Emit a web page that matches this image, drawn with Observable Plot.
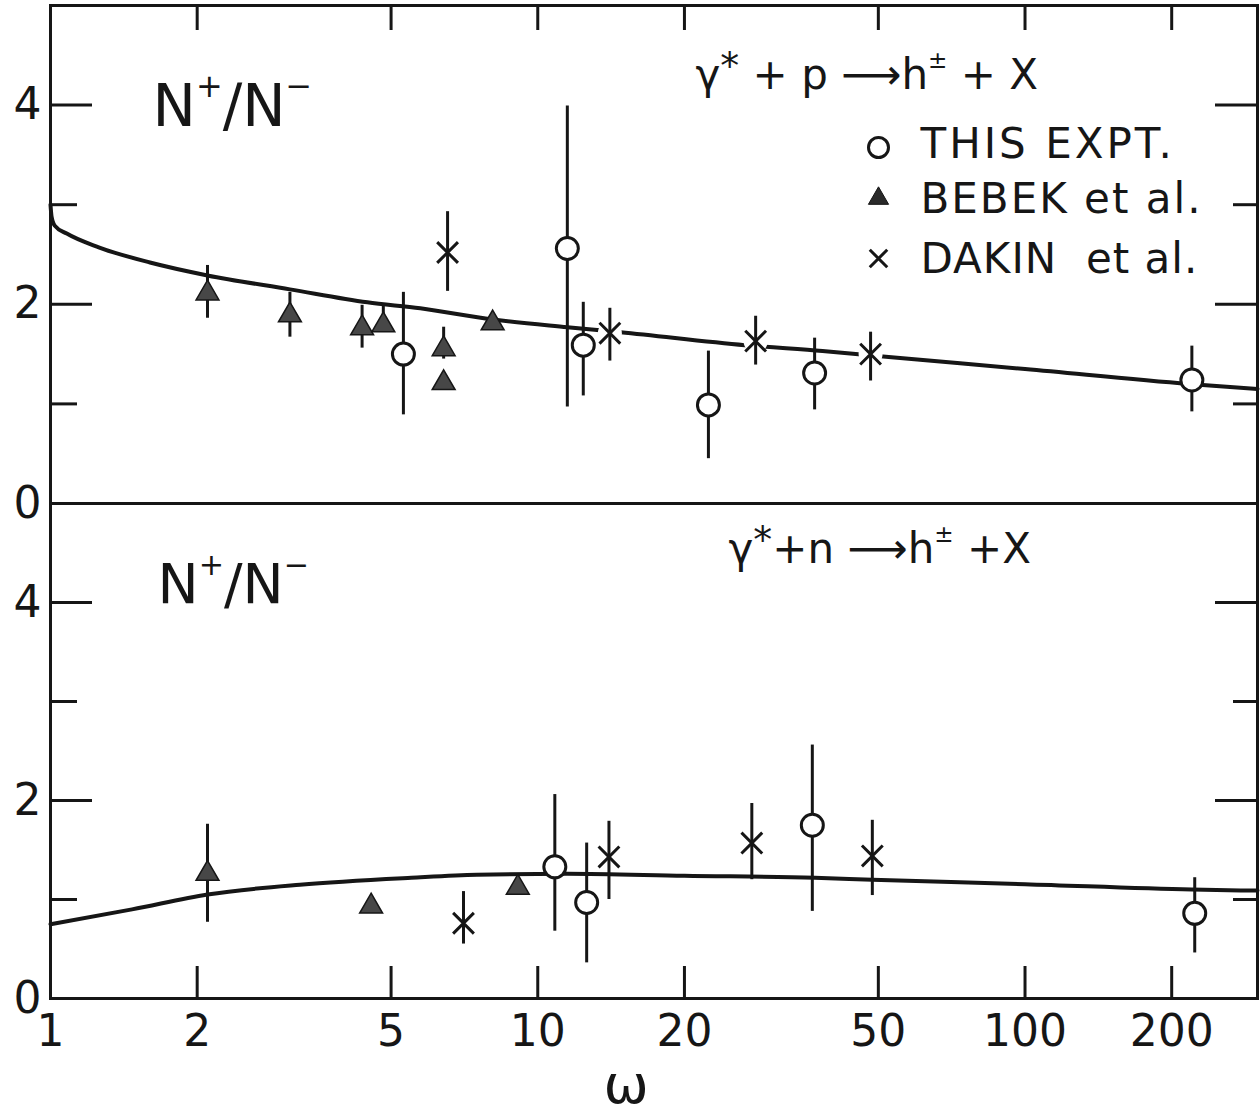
<!DOCTYPE html>
<html>
<head>
<meta charset="utf-8">
<script src="https://cdn.jsdelivr.net/npm/d3@7"></script>
<script src="https://cdn.jsdelivr.net/npm/@observablehq/plot@0.6"></script>
<style>
html, body { margin: 0; padding: 0; background: #fff; }
#chart { position: relative; width: 1260px; height: 1116px; overflow: hidden; background: #fff; }
#chart svg { position: absolute; left: 0; }
#chart text { white-space: pre; }
</style>
</head>
<body>
<div id="chart"></div>
<script>
// ---------------- data ----------------
const xTicks = [2, 5, 10, 20, 50, 100, 200];
const xLabels = [1, 2, 5, 10, 20, 50, 100, 200];
const yMajor = [2, 4];
const yMinor = [1, 3];
const yLabels = [0, 2, 4];
const legendLabels = ["THIS EXPT.", "BEBEK et al.", "DAKIN  et al."];

// gamma* + p  -> h± + X : theory curve
const curvePOmega = [1.000, 1.005, 1.02, 1.08, 1.26, 1.6, 2.1, 3.1, 4.47, 5.74, 8.0, 11.5, 14.8, 26.6, 38.4, 52.5, 100, 217, 300];
const curvePRatio = [3.00, 2.88, 2.79, 2.71, 2.57, 2.42, 2.29, 2.15, 2.02, 1.96, 1.85, 1.77, 1.72, 1.59, 1.53, 1.47, 1.35, 1.20, 1.15];
// THIS EXPT. (proton)
const exptPOmega = [5.3, 11.5, 12.4, 22.4, 37, 220];
const exptPRatio = [1.50, 2.56, 1.59, 0.99, 1.31, 1.24];
const exptPLow   = [0.89, 0.97, 1.08, 0.45, 0.94, 0.92];
const exptPHigh  = [2.12, 3.99, 2.02, 1.53, 1.66, 1.58];
// BEBEK et al. (proton)
const bebekPOmega = [2.10, 3.10, 4.36, 4.82, 6.41, 6.41, 8.08];
const bebekPRatio = [2.11, 1.89, 1.76, 1.79, 1.55, 1.21, 1.81];
const bebekPLow   = [1.86, 1.67, 1.56, 1.79, 1.45, null, null];
const bebekPHigh  = [2.39, 2.12, 1.99, 2.00, 1.77, null, null];
// DAKIN et al. (proton)
const dakinPOmega = [6.53, 14.06, 28.0, 48.2];
const dakinPRatio = [2.52, 1.71, 1.63, 1.50];
const dakinPLow   = [2.13, 1.43, 1.39, 1.23];
const dakinPHigh  = [2.93, 1.96, 1.88, 1.72];

// gamma* + n -> h± + X : theory curve
const curveNOmega = [1.0, 1.47, 2.1, 3.25, 5.5, 7.5, 11.5, 20, 37, 48.6, 100, 220, 300];
const curveNRatio = [0.75, 0.90, 1.05, 1.15, 1.22, 1.25, 1.26, 1.24, 1.22, 1.20, 1.155, 1.10, 1.09];
// THIS EXPT. (neutron)
const exptNOmega = [10.84, 12.6, 36.6, 223];
const exptNRatio = [1.33, 0.97, 1.75, 0.86];
const exptNLow   = [0.68, 0.36, 0.88, 0.46];
const exptNHigh  = [2.06, 1.57, 2.56, 1.22];
// BEBEK et al. (neutron)
const bebekNOmega = [2.10, 4.55, 9.1];
const bebekNRatio = [1.26, 0.93, 1.12];
const bebekNLow   = [0.77, null, null];
const bebekNHigh  = [1.76, null, null];
// DAKIN et al. (neutron)
const dakinNOmega = [7.04, 14.0, 27.5, 48.6];
const dakinNRatio = [0.76, 1.43, 1.57, 1.44];
const dakinNLow   = [0.55, 1.00, 1.20, 1.04];
const dakinNHigh  = [1.08, 1.79, 1.97, 1.80];

// ---------------- helpers ----------------
const INK = "#161616";
const FONT = "'DejaVu Sans', sans-serif";
const W = 1260, ML = 50, MR = 3, PW = W - ML - MR;
const legendSpacing = {"THIS EXPT.": "3px", "BEBEK et al.": "2px", "DAKIN  et al.": "1px"};

const rows = (om, r, lo, hi) => om.map((w, i) => ({w, r: r[i], lo: lo ? lo[i] : null, hi: hi ? hi[i] : null}));

// "^{txt}" or "^{txt|scale|shift}" -> superscript tspans
function richify(svg) {
  svg.querySelectorAll("text").forEach(el => {
    const s = el.textContent;
    if (legendSpacing[s]) el.setAttribute("letter-spacing", legendSpacing[s]);
    if (!s.includes("^{")) return;
    el.textContent = "";
    const re = /\^\{([^}]*)\}/g;
    let last = 0, m, prevShift = 0;
    const add = (txt, sup) => {
      if (!txt) return;
      const ts = document.createElementNS("http://www.w3.org/2000/svg", "tspan");
      if (sup) {
        const [t, sc = "0.55", sh = "0.5"] = txt.split("|");
        const scale = +sc, shift = +sh;
        ts.textContent = t;
        ts.setAttribute("font-size", (scale * 100) + "%");
        ts.setAttribute("dy", ((-shift - prevShift) / scale).toFixed(3) + "em");
        prevShift = shift;
      } else {
        ts.textContent = txt;
        if (prevShift) ts.setAttribute("dy", prevShift + "em");
        prevShift = 0;
      }
      el.appendChild(ts);
    };
    while ((m = re.exec(s))) { add(s.slice(last, m.index), false); add(m[1], true); last = re.lastIndex; }
    add(s.slice(last), false);
  });
}

function panel({height, marginTop, marginBottom, curve, expt, bebek, dakin, ticksOnTop, extra}) {
  const PH = height - marginTop - marginBottom;
  const errs = [...expt, ...bebek, ...dakin].filter(d => d.lo != null);
  const svg = Plot.plot({
    width: W, height, marginLeft: ML, marginRight: MR, marginTop, marginBottom,
    x: {type: "log", domain: [1, 300], axis: null},
    y: {domain: [0, 5], axis: null},
    style: {background: "none", fontFamily: FONT, color: INK, overflow: "visible"},
    marks: [
      Plot.line(curve, {x: "w", y: "r", curve: "monotone-x", stroke: INK, strokeWidth: 4}),
      Plot.dot(dakin, {x: "w", y: "r", r: 12, fill: "white"}),
      Plot.ruleX(errs, {x: "w", y1: "lo", y2: "hi", stroke: INK, strokeWidth: 3}),
      Plot.dot(bebek, {x: "w", y: "r", symbol: "triangle", r: 8.5, fill: "#474747", stroke: INK, strokeWidth: 1.5}),
      Plot.dot(dakin, {x: "w", y: "r", symbol: "times", r: 9.5, stroke: INK, strokeWidth: 3}),
      Plot.dot(expt, {x: "w", y: "r", r: 11, fill: "white", stroke: INK, strokeWidth: 3}),
      Plot.tickY(yMajor, {y: d => d, insetRight: PW - 42, stroke: INK, strokeWidth: 3}),
      Plot.tickY(yMinor, {y: d => d, insetRight: PW - 27, stroke: INK, strokeWidth: 3}),
      Plot.tickY(yMajor, {y: d => d, insetLeft: PW - 42, stroke: INK, strokeWidth: 3}),
      Plot.tickY(yMinor, {y: d => d, insetLeft: PW - 24, stroke: INK, strokeWidth: 3}),
      ticksOnTop
        ? Plot.tickX(xTicks, {x: d => d, insetBottom: PH - 25, stroke: INK, strokeWidth: 3})
        : Plot.tickX(xTicks, {x: d => d, insetTop: PH - 32, stroke: INK, strokeWidth: 3}),
      Plot.frame({stroke: INK, strokeWidth: 3}),
      Plot.text(yLabels, {y: d => d, text: d => String(d), frameAnchor: "left", dx: -9, textAnchor: "end", fontSize: 44, fill: INK}),
      ...extra
    ]
  });
  richify(svg);
  return svg;
}

// ---------------- top panel (proton) ----------------
const topSvg = panel({
  height: 540, marginTop: 5, marginBottom: 37,
  curve: rows(curvePOmega, curvePRatio),
  expt: rows(exptPOmega, exptPRatio, exptPLow, exptPHigh),
  bebek: rows(bebekPOmega, bebekPRatio, bebekPLow, bebekPHigh),
  dakin: rows(dakinPOmega, dakinPRatio, dakinPLow, dakinPHigh),
  ticksOnTop: true,
  extra: [
    Plot.text(["N^{+}/N^{−}"], {frameAnchor: "top-left", dx: 102, dy: 120, textAnchor: "start", lineAnchor: "bottom", fontSize: 58, fill: INK}),
    Plot.text(["γ^{*|0.9|0.22} + p ⟶h^{±} + X"], {frameAnchor: "top-left", dx: 645, dy: 83, textAnchor: "start", lineAnchor: "bottom", fontSize: 42, fill: INK}),
    Plot.dot([0], {frameAnchor: "top-left", dx: 828, dy: 142, r: 10, fill: "white", stroke: INK, strokeWidth: 3}),
    Plot.dot([0], {frameAnchor: "top-left", dx: 828, dy: 193, symbol: "triangle", r: 7.5, fill: "#2a2a2a", stroke: INK, strokeWidth: 1}),
    Plot.dot([0], {frameAnchor: "top-left", dx: 828, dy: 253, symbol: "times", r: 8, stroke: INK, strokeWidth: 3}),
    Plot.text([legendLabels[0]], {frameAnchor: "top-left", dx: 870, dy: 152, textAnchor: "start", lineAnchor: "bottom", fontSize: 42, fill: INK}),
    Plot.text([legendLabels[1]], {frameAnchor: "top-left", dx: 870, dy: 207, textAnchor: "start", lineAnchor: "bottom", fontSize: 42, fill: INK}),
    Plot.text([legendLabels[2]], {frameAnchor: "top-left", dx: 870, dy: 267, textAnchor: "start", lineAnchor: "bottom", fontSize: 42, fill: INK})
  ]
});

// ---------------- bottom panel (neutron) ----------------
const bottomSvg = panel({
  height: 618, marginTop: 5, marginBottom: 118,
  curve: rows(curveNOmega, curveNRatio),
  expt: rows(exptNOmega, exptNRatio, exptNLow, exptNHigh),
  bebek: rows(bebekNOmega, bebekNRatio, bebekNLow, bebekNHigh),
  dakin: rows(dakinNOmega, dakinNRatio, dakinNLow, dakinNHigh),
  ticksOnTop: false,
  extra: [
    Plot.text(["N^{+}/N^{−}"], {frameAnchor: "top-left", dx: 107, dy: 99, textAnchor: "start", lineAnchor: "bottom", fontSize: 55, fill: INK}),
    Plot.text(["γ^{*|0.9|0.22}+n ⟶h^{±} +X"], {frameAnchor: "top-left", dx: 678, dy: 59, textAnchor: "start", lineAnchor: "bottom", fontSize: 42, fill: INK}),
    Plot.text(xLabels, {x: d => d, text: d => String(d), frameAnchor: "bottom", dy: 16, lineAnchor: "top", fontSize: 44, fill: INK}),
    Plot.text(["ω"], {frameAnchor: "bottom", dx: -28, dy: 104, lineAnchor: "bottom", fontSize: 54, fill: INK})
  ]
});

const chart = document.getElementById("chart");
bottomSvg.style.top = "498px";
topSvg.style.top = "0px";
chart.appendChild(bottomSvg);
chart.appendChild(topSvg);
</script>
</body>
</html>
